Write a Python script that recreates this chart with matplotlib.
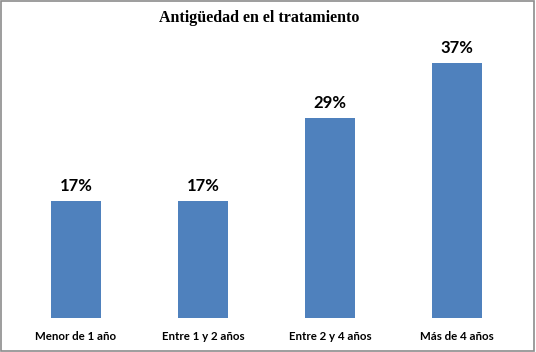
import matplotlib
matplotlib.use('Agg')
import matplotlib.pyplot as plt
from matplotlib.patches import Rectangle

categories = ['Menor de 1 año', 'Entre 1 y 2 años', 'Entre 2 y 4 años', 'Más de 4 años']
values = [17, 17, 29, 37]
labels = ['17%', '17%', '29%', '37%']

bar_color = '#4F81BD'

fig = plt.figure(figsize=(5.36, 3.52), dpi=100)
ax = fig.add_axes([12.5/536, 1 - 318/352, 508/536, 276/352])

x = range(len(categories))
bars = ax.bar(x, values, width=0.394, color=bar_color)

# value labels above each bar
for b, lab in zip(bars, labels):
    ax.annotate(lab, (b.get_x() + b.get_width()/2, b.get_height()),
                xytext=(0, 7), textcoords='offset pixels',
                ha='center', va='bottom', fontsize=12, fontweight='bold',
                family='Lato', color='black')

ax.set_xlim(-0.5, 3.5)
ax.set_ylim(0, 40)
ax.set_xticks(list(x))
ax.set_xticklabels(categories, family='Lato', fontsize=8.3, fontweight='bold')
ax.tick_params(axis='x', length=0, pad=9)
ax.set_yticks([])
for s in ax.spines.values():
    s.set_visible(False)

fig.text(259/536, 1 - 18/352, 'Antigüedad en el tratamiento', ha='center', va='center',
         family='Liberation Serif', fontweight='bold', fontsize=11.5)

fig.patches.append(Rectangle((0.002, 0.003), 0.995, 0.994, transform=fig.transFigure,
                             fill=False, edgecolor='#8C8C8C', linewidth=1.2))

fig.savefig('out.png', dpi=100)
